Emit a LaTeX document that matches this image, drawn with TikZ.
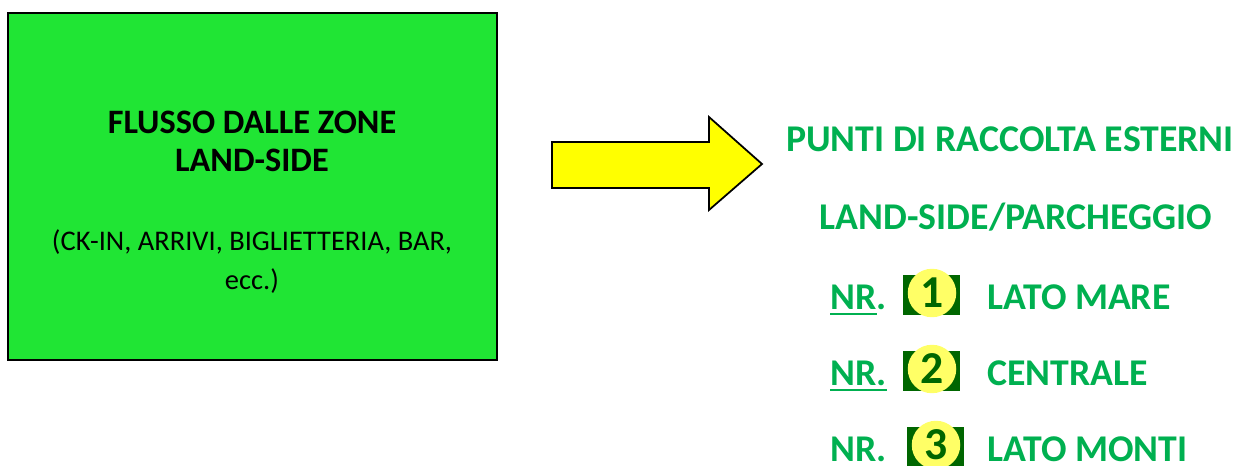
\documentclass[tikz,border=0pt]{standalone}
\usepackage{fontspec}
\setmainfont{Carlito}
\usepackage{xcolor}
\definecolor{zonegreen}{HTML}{20E534}
\definecolor{puntgreen}{HTML}{00B050}
\definecolor{badgegreen}{HTML}{006600}
\definecolor{badgeyellow}{HTML}{FFFF66}
\definecolor{arrowyellow}{HTML}{FFFF00}
\newcommand{\nrul}[1]{\vtop{\hbox{#1}\kern2.2pt\hrule height 1.2pt}}
\tikzset{
  zonetext/.style={font=\fontsize{16.2}{20}\selectfont, anchor=base, inner sep=0pt},
  zonetitle/.style={font=\fontsize{19.5}{23}\selectfont\bfseries, anchor=base, inner sep=0pt},
  punttext/.style={font=\fontsize{21.5}{25}\selectfont\bfseries, text=puntgreen, anchor=base, inner sep=0pt},
  badgenum/.style={font=\fontsize{26}{30}\selectfont\bfseries, text=badgegreen, inner sep=0pt}
}
\begin{document}
\begin{tikzpicture}[x=0.02cm, y=-0.02cm]
\useasboundingbox (0,0) rectangle (1244,466);
% ---- zone box ----
\draw[line width=1.2pt, fill=zonegreen] (8,13) rectangle (497,360);
\node[zonetitle] (flusso) at (252,133) {FLUSSO DALLE ZONE};
\node[zonetitle] (landside) at (252,172) {LAND-SIDE};
\node[zonetext] (zone) at (252,250) {(CK-IN, ARRIVI, BIGLIETTERIA, BAR,};
\node[zonetext] (ecc) at (252,289) {ecc.)};
% ---- block arrow ----
\draw[line width=1pt, fill=arrowyellow, line join=miter]
  (552,142) -- (709,142) -- (709,117) -- (762,164) -- (709,210) -- (709,188) -- (552,188) -- cycle;
% ---- collection points ----
\node[punttext] (punti) at (1010,152) {PUNTI DI RACCOLTA ESTERNI};
\node[punttext] (parcheggio) at (1016,229) {LAND-SIDE/PARCHEGGIO};
\foreach \yy/\bx/\nr/\num/\lab in {309/903/\nrul{NR}./1/LATO MARE,
                                   385/903/\nrul{NR.}/2/CENTRALE,
                                   461/907/NR./3/LATO MONTI}{
  \node[punttext, anchor=base west] (nr\num) at (830,\yy) {\nr};
  \fill[badgegreen] (\bx,\yy-34) rectangle (\bx+57,\yy+6);
  \node[circle, fill=badgeyellow, minimum size=0.97cm, inner sep=0pt] (badge\num) at (\bx+29,\yy-16) {};
  \node[badgenum] (num\num) at (badge\num.center) {\num};
  \node[punttext, anchor=base west] (lab\num) at (987,\yy) {\lab};
}
\end{tikzpicture}
\end{document}
